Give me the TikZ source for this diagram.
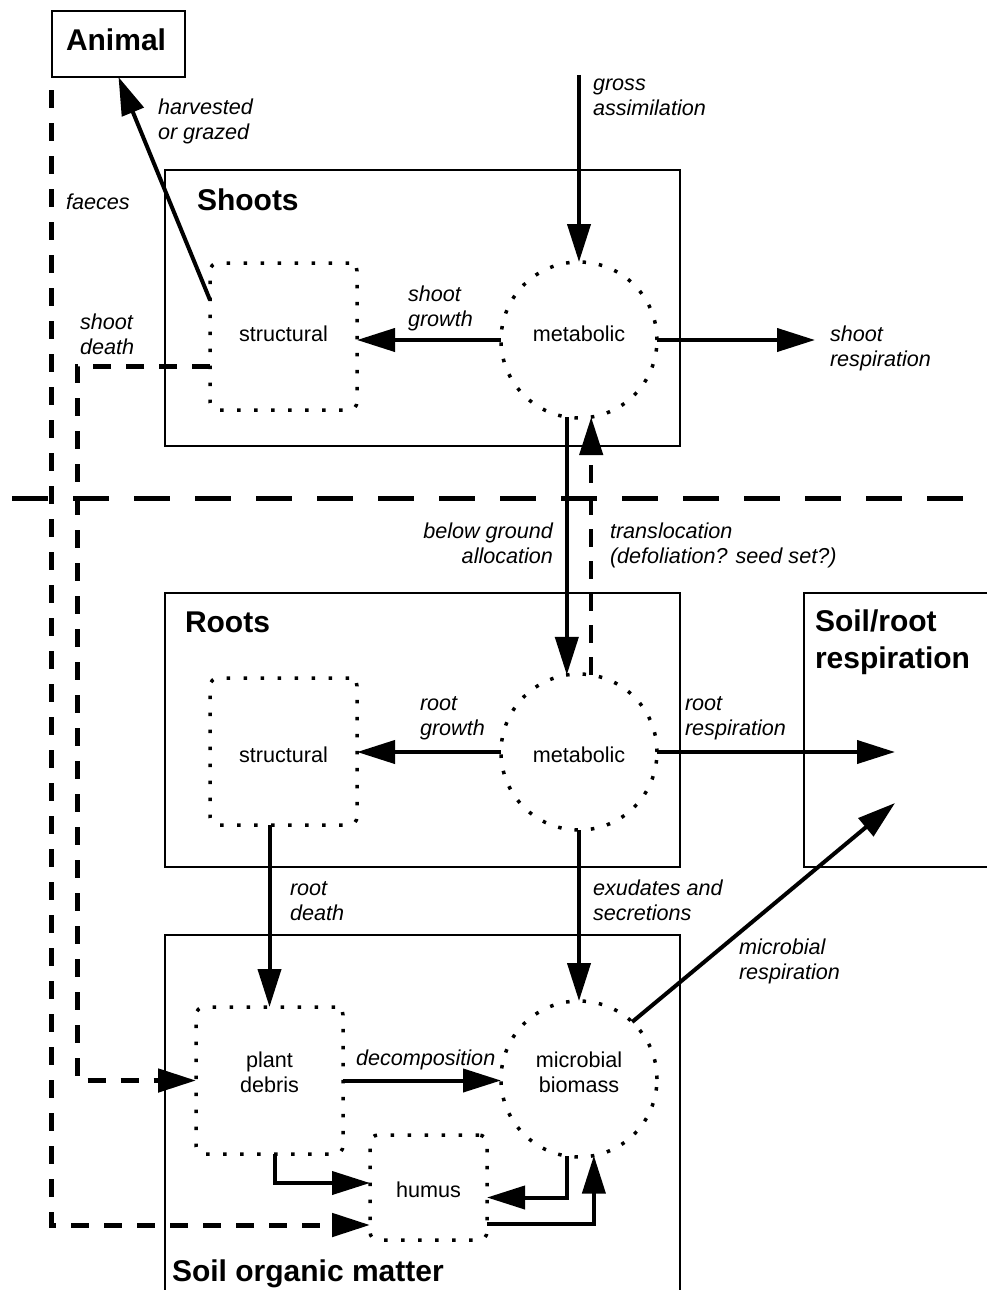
\documentclass[tikz,border=0pt]{standalone}
\usepackage{fontspec}
\setmainfont{Liberation Sans}
\usetikzlibrary{arrows.meta,calc}
\newcommand\lblfont{\fontsize{21.6}{25}\selectfont}
\newcommand\ttlfont{\fontsize{30}{37}\selectfont\bfseries}
\begin{document}
\begin{tikzpicture}[x=1pt,y=-1pt,
  box/.style={draw, line width=1.5pt, inner sep=0pt, outer sep=0pt},
  dotbox/.style={draw, line width=3.5pt, dash pattern=on 3.5pt off 13.5pt, rounded corners=8pt,
    minimum width=147pt, minimum height=147pt, inner sep=0pt, outer sep=0pt, font=\lblfont, align=center},
  dothumus/.style={dotbox, minimum width=117pt, minimum height=105pt},
  dotcirc/.style={draw, circle, line width=3.5pt, dash pattern=on 3.5pt off 13pt,
    minimum size=156pt, inner sep=0pt, outer sep=0pt, font=\lblfont, align=center},
  intext/.style={font=\lblfont, align=center, inner sep=0pt},
  flow/.style={line width=4pt, -{Triangle[length=38pt,width=23pt]}},
  dflow/.style={flow, dash pattern=on 18pt off 15pt, line width=5pt},
  tflow/.style={flow, dash pattern=on 18pt off 14pt, line width=4.5pt},
  ground/.style={line width=5pt, dash pattern=on 36pt off 25pt},
  lbl/.style={font=\lblfont\itshape, inner sep=0pt, outer sep=0pt, align=left, anchor=north west},
  lblr/.style={lbl, align=right, anchor=north east},
  ttl/.style={font=\ttlfont, inner sep=0pt, outer sep=0pt, anchor=base west},
  ttlm/.style={font=\ttlfont, inner sep=0pt, outer sep=0pt, anchor=north west, align=left}
]
\useasboundingbox (0,0) rectangle (987,1290);

% boxes
\node[box, minimum width=133pt, minimum height=66pt] (animal) at (118.5,44) {};
\node[box, minimum width=515pt, minimum height=276pt] (shoots) at (422.5,308) {};
\node[box, minimum width=515pt, minimum height=274pt] (roots) at (422.5,730) {};
\node[box, minimum width=195pt, minimum height=274pt] (srr) at (901.5,730) {};
\node[box, minimum width=515pt, minimum height=370pt] (som) at (422.5,1120) {};

% titles
\node[ttl] (tanimal) at (66,51) {Animal};
\node[ttl] (tshoots) at (197,210) {Shoots};
\node[ttl] (troots) at (185,632) {Roots};
\node[ttlm] (tsrr) at (815,606) {\strut Soil/root\\respiration};
\node[ttl] (tsom) at (172,1281) {Soil organic matter};

% inner compartments
\node[dotbox] (shs) at (283.5,336.5) {};
\node[intext] (shst) at (283.5,334) {structural};
\node[dotcirc] (shm) at (579,340) {};
\node[intext] (shmt) at (579,334) {metabolic};
\node[dotbox] (rts) at (283.5,751.5) {};
\node[intext] (rtst) at (283.5,755) {structural};
\node[dotcirc] (rtm) at (579,752) {};
\node[intext] (rtmt) at (579,755) {metabolic};
\node[dotbox] (pd) at (269.5,1080.5) {};
\node[intext] (pdt) at (269.5,1072) {plant\\debris};
\node[dotcirc] (mb) at (579,1079) {};
\node[intext] (mbt) at (579,1072) {microbial\\biomass};
\node[dothumus] (hum) at (428.5,1187.5) {};
\node[intext] (humt) at (428.5,1190) {humus};

% free ends
\coordinate (ga) at (579,75);
\coordinate (sr) at (815,340);
\coordinate (rr) at (895,752);
\coordinate (mr) at (895,803);
\coordinate (fs) at (51,90);
\coordinate (gl1) at (12,498);
\coordinate (gl2) at (992,498);

% ground line
\draw[ground] (gl1) -- (gl2);

% flows
\draw[flow] (ga) -- (shm.north);
\draw[flow] (shm.west) -- (shm.west -| shs.east);
\draw[flow] (shm.east) -- (sr);
\draw[flow] ([yshift=36.5pt]shs.west) -- (animal.south);
\draw[dflow] ([yshift=-29.5pt]shs.west) -- ++(-133,0) |- (pd.west);
\draw[dflow] (fs) |- ([yshift=-37.5pt]hum.west);
\draw[flow] (shm.261) -- (rtm.99);
\draw[tflow] (rtm.81) -- (shm.279);
\draw[flow] (rtm.west) -- (rtm.west -| rts.east);
\draw[flow] (rtm.east) -- (rr);
\draw[flow] (pd.north |- rts.south) -- (pd.north);
\draw[flow] (rtm.south) -- (mb.north);
\draw[flow] (mb.47) -- (mr);
\draw[flow] (pd.east) -- (pd.east -| mb.west);
\draw[flow] ([xshift=5.5pt]pd.south) |- ([yshift=4.5pt]hum.west);
\draw[flow] (mb.261) |- ([yshift=-10pt]hum.east);
\draw[flow] ([yshift=-36.5pt]hum.east) -| (mb.281);

% labels
\node[lbl] (lharv) at (158,97) {\strut harvested\\or grazed};
\node[lbl] (lgross) at (593,72.5) {\strut gross\\assimilation};
\node[lbl, anchor=base west] (lfaec) at (66,209) {faeces};
\node[lbl] (lsg) at (408,283.5) {\strut shoot\\growth};
\node[lbl] (lsr) at (830,323.5) {\strut shoot\\respiration};
\node[lbl] (lsd) at (80,311.5) {\strut shoot\\death};
\node[lblr] (lbga) at (553,520.5) {\strut below ground\\allocation};
\node[lbl] (ltrans) at (610,520.5) {\strut translocation\\(defoliation? seed set?)};
\node[lbl] (lrg) at (420,692.5) {\strut root\\growth};
\node[lbl] (lrr) at (685,692.5) {\strut root\\respiration};
\node[lbl] (lrd) at (290,877.5) {\strut root\\death};
\node[lbl] (lex) at (593,877.5) {\strut exudates and\\secretions};
\node[lbl] (lmr) at (739,936.5) {\strut microbial\\respiration};
\node[lbl, anchor=base west] (ldec) at (356,1065) {decomposition};
\end{tikzpicture}
\end{document}
